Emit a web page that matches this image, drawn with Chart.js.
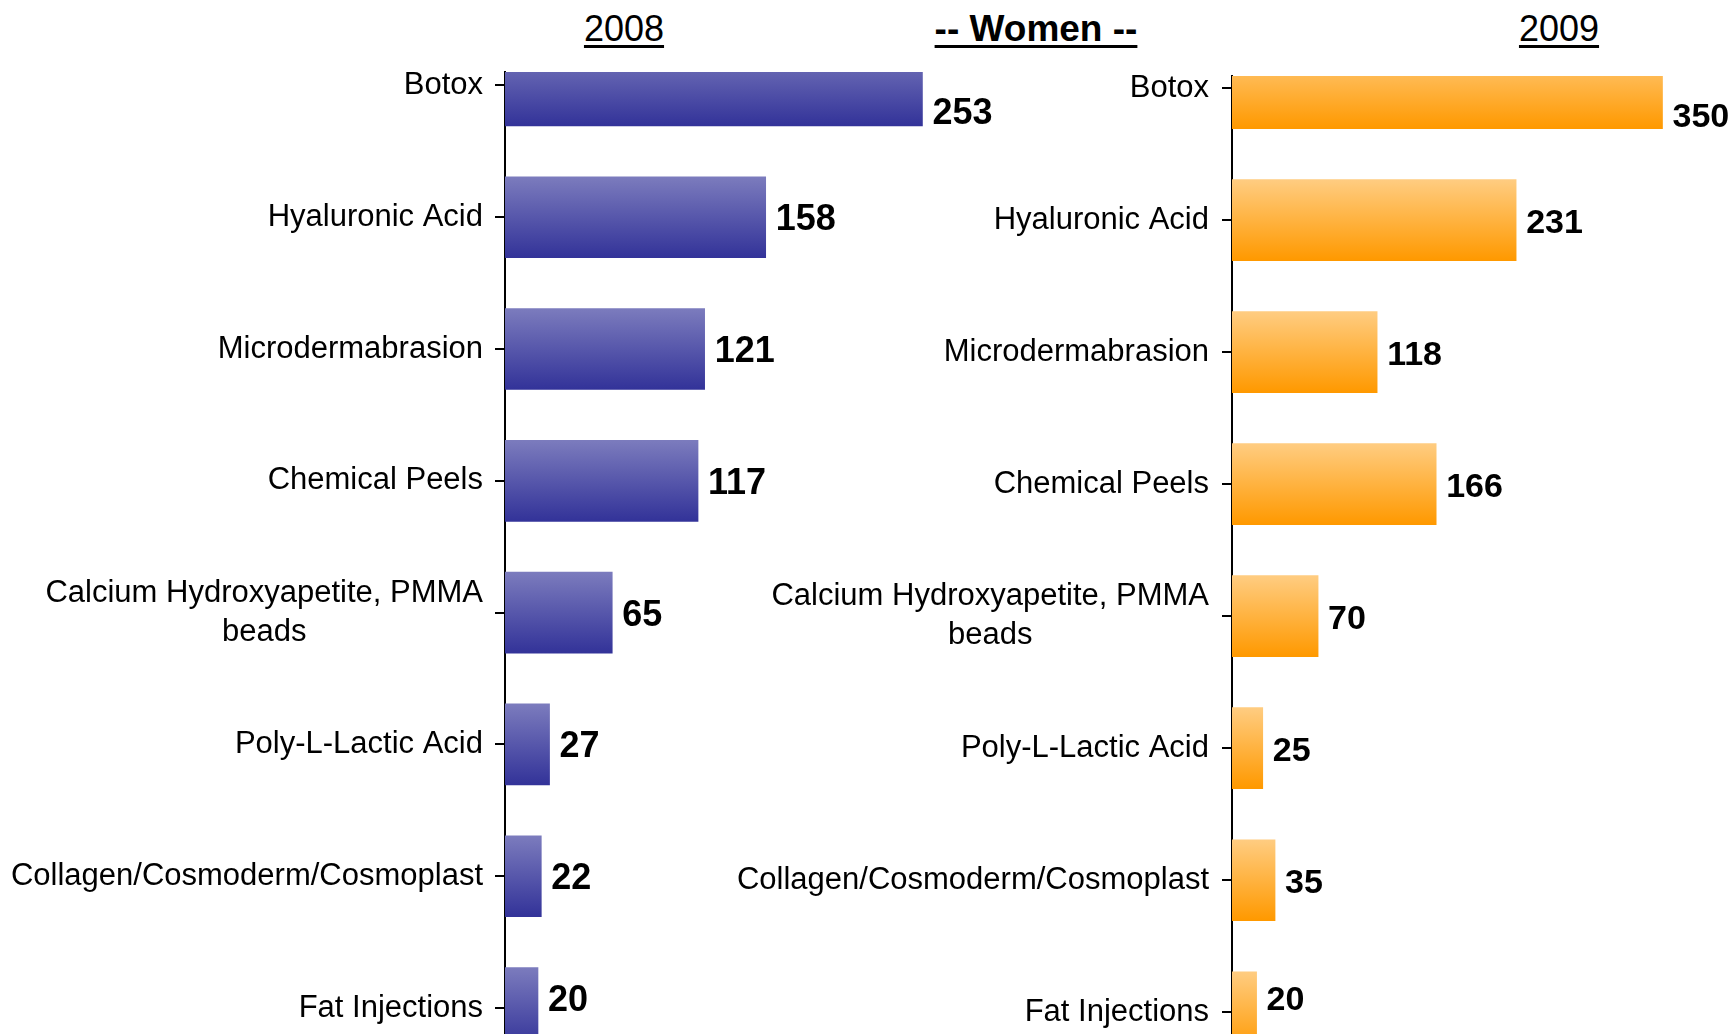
<!DOCTYPE html>
<html>
<head>
<meta charset="utf-8">
<script src="https://cdn.jsdelivr.net/npm/chart.js@4.4.1/dist/chart.umd.min.js"></script>
<style>
    html, body { margin: 0; padding: 0; background: #fff; overflow: hidden; }
    #page { position: relative; width: 1733px; height: 1034px; }
    #page canvas { position: absolute; left: 0; top: 0; }
    .title {
        position: absolute;
        top: 11px;
        font-family: "Liberation Sans", Arial, sans-serif;
        font-size: 36px;
        line-height: 36px;
        text-decoration: underline;
        text-decoration-thickness: 3px;
        text-underline-offset: 4px;
        transform: translateX(-50%);
        white-space: nowrap;
        color: #000;
    }
</style>
</head>
<body>
<div id="page">
    <div class="title" style="left:624px">2008</div>
    <div class="title" style="left:1036px;font-weight:bold;font-size:37px">-- Women --</div>
    <div class="title" style="left:1559px">2009</div>
    <canvas id="women2008" width="1733" height="1034"></canvas>
    <canvas id="women2009" width="1733" height="1034"></canvas>
</div>

<script>
// Procedures (women), thousands
const categories = [
    'Botox',
    'Hyaluronic Acid',
    'Microdermabrasion',
    'Chemical Peels',
    ['Calcium Hydroxyapetite, PMMA', 'beads'],
    'Poly-L-Lactic Acid',
    'Collagen/Cosmoderm/Cosmoplast',
    'Fat Injections'
];
const values2008 = [253, 158, 121, 117, 65, 27, 22, 20];
const values2009 = [350, 231, 118, 166, 70, 25, 35, 20];

const FONT = '"Liberation Sans", Arial, sans-serif';

/**
 * Draws category labels (multi-line lines centred on each other, block right aligned)
 * and bold value labels at the end of each bar
 */
const labelPlugin = {
    id: 'barLabels',
    afterDatasetsDraw(chart, args, opts) {
        const ctx = chart.ctx;
        const yScale = chart.scales.y;
        const area = chart.chartArea;
        ctx.save();
        ctx.fillStyle = '#000';
        ctx.textBaseline = 'middle';

        // category labels
        ctx.font = opts.catFont;
        categories.forEach((cat, i) => {
            const lines = Array.isArray(cat) ? cat : [cat];
            const y = yScale.getPixelForValue(i);
            const widest = Math.max(...lines.map(l => ctx.measureText(l).width));
            const cx = area.left - opts.catGap - widest / 2;
            ctx.textAlign = 'center';
            lines.forEach((line, j) => {
                ctx.fillText(line, cx, y + (j - (lines.length - 1) / 2) * 39);
            });
        });

        // value labels (kept inside the plot when the bar is cut off)
        ctx.font = opts.valueFont;
        ctx.textAlign = 'left';
        chart.getDatasetMeta(0).data.forEach((bar, i) => {
            const v = chart.data.datasets[0].data[i].x;
            const y = Math.max(area.top + 39, Math.min(bar.y, area.bottom - 36)) + 3;
            ctx.fillText(String(v), bar.x + 10, y);
        });
        ctx.restore();
    }
};

function barGradient(top, bottom) {
    return (context) => {
        const chart = context.chart;
        if (!chart.chartArea) return bottom;
        const y = chart.scales.y.getPixelForValue(context.dataIndex);
        const g = chart.ctx.createLinearGradient(0, y - 40, 0, y + 40);
        g.addColorStop(0, top);
        g.addColorStop(1, bottom);
        return g;
    };
}

function createChart(canvasId, values, cfg) {
    const ctx = document.getElementById(canvasId);
    return new Chart(ctx, {
        type: 'bar',
        data: {
            datasets: [{
                data: values.map((v, i) => ({ x: v, y: i })),
                backgroundColor: barGradient(cfg.top, cfg.bottom),
                barThickness: 81,
                clip: 0
            }]
        },
        options: {
            indexAxis: 'y',
            responsive: false,
            animation: false,
            layout: {
                padding: { left: 0, right: cfg.padRight, top: cfg.padTop, bottom: 0 }
            },
            plugins: {
                legend: { display: false },
                tooltip: { enabled: false },
                barLabels: {
                    catFont: cfg.catFont,
                    catGap: cfg.catGap,
                    valueFont: cfg.valueFont
                }
            },
            scales: {
                x: {
                    type: 'linear',
                    display: false,
                    min: 0,
                    max: cfg.xMax
                },
                y: {
                    type: 'linear',
                    reverse: true,
                    offset: false,
                    min: cfg.yMin,
                    max: cfg.yMax,
                    afterFit: (scale) => { scale.width = cfg.axisX; },
                    afterBuildTicks: (scale) => {
                        scale.ticks = categories.map((c, i) => ({ value: i }));
                    },
                    ticks: { display: false },
                    grid: {
                        offset: false,
                        drawOnChartArea: false,
                        drawTicks: true,
                        tickLength: 10,
                        color: '#000',
                        lineWidth: 2
                    },
                    border: { display: true, color: '#000', width: 2 }
                }
            }
        },
        plugins: [labelPlugin]
    });
}

createChart('women2008', values2008, {
    top: '#7b7bbd', bottom: '#333399',
    axisX: 505, padTop: 72, padRight: 733, xMax: 300,
    yMin: -0.102, yMax: 7.197,
    catFont: '31px ' + FONT, catGap: 22,
    valueFont: 'bold 36px ' + FONT
});

createChart('women2009', values2009, {
    top: '#ffcc80', bottom: '#ff9900',
    axisX: 1232, padTop: 76, padRight: 9, xMax: 400,
    yMin: -0.092, yMax: 7.165,
    catFont: '31px ' + FONT, catGap: 23,
    valueFont: 'bold 34px ' + FONT
});
</script>
</body>
</html>
